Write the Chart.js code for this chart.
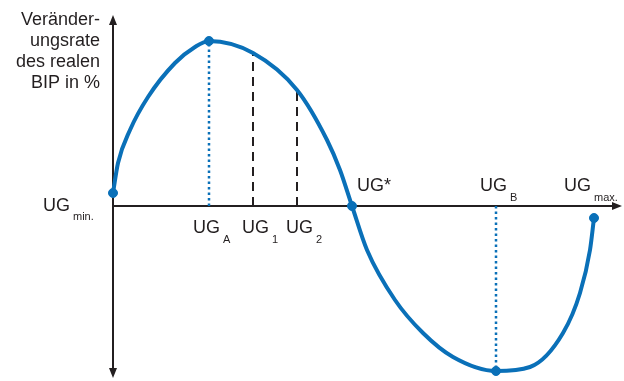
<!DOCTYPE html>
<html lang="de">
<head>
<meta charset="UTF-8">
<title>Veränderungsrate des realen BIP</title>
<script src="https://cdn.jsdelivr.net/npm/chart.js"></script>
<style>
    html, body { margin: 0; padding: 0; background: #fff; }
    #wrap { width: 624px; height: 381px; position: relative; }
</style>
</head>
<body>
<div id="wrap"><canvas id="cycle"></canvas></div>
<script>
// Curve (x = position along the axis, y = growth rate)
const curveX = [0, 5, 17, 35, 62, 82, 96, 140, 184, 214, 227, 239, 254, 282, 310, 340, 383, 417, 450, 467, 477, 481];
const curveY = [13, 43, 76, 109, 143, 159, 165, 153, 116, 66, 36, 0, -44, -94, -127, -151, -165, -161, -127, -87, -44, -12];

// marked points: UG min, UG A, UG*, UG B, UG max
const dotX = [0, 96, 239, 383, 481];
const dotY = [13, 165, 0, -165, -12];

// guide lines
const dottedX = [96, 383];
const dottedY = [165, -165];
const dashedX = [140, 184];
const dashedY = [153, 116];

const yTitle = ['Veränder-', 'ungsrate', 'des realen', 'BIP in %'];

const blue = '#0a70b8';
const ink = '#231f20';
const FONT = '"Liberation Sans", Arial, sans-serif';

function guide(x, y, color, dash, width) {
    return {
        data: [{ x: x, y: 0 }, { x: x, y: y }],
        borderColor: color,
        borderWidth: width,
        borderDash: dash,
        pointRadius: 0,
        showLine: true,
        clip: false,
        order: 3
    };
}

const datasets = [];
dottedX.forEach((x, i) => datasets.push(guide(x, dottedY[i], blue, [2.5, 3], 2.5)));
dashedX.forEach((x, i) => datasets.push(guide(x, dashedY[i], ink, [9, 6], 2)));
datasets.push({
    data: curveX.map((x, i) => ({ x: x, y: curveY[i] })),
    borderColor: blue,
    borderWidth: 4,
    pointRadius: 0,
    showLine: true,
    clip: false,
    cubicInterpolationMode: 'monotone',
    order: 1
});
datasets.push({
    data: dotX.map((x, i) => ({ x: x, y: dotY[i] })),
    backgroundColor: blue,
    borderColor: blue,
    pointRadius: 4.5,
    showLine: false,
    clip: false,
    order: 0
});

// axes, arrows and labels drawn by hand
const decor = {
    id: 'decor',
    beforeDatasetsDraw(chart) {
        const c = chart.ctx, xs = chart.scales.x, ys = chart.scales.y;
        const x0 = xs.getPixelForValue(0), y0 = ys.getPixelForValue(0);
        const top = chart.chartArea.top, bottom = chart.chartArea.bottom, right = chart.chartArea.right;
        c.save();
        c.strokeStyle = ink;
        c.fillStyle = ink;
        c.lineWidth = 2;
        c.beginPath();
        c.moveTo(x0, top + 8); c.lineTo(x0, bottom - 8);
        c.moveTo(x0, y0); c.lineTo(right - 8, y0);
        c.stroke();
        // arrow heads
        c.beginPath();
        c.moveTo(x0, top); c.lineTo(x0 - 4, top + 10); c.lineTo(x0 + 4, top + 10); c.closePath();
        c.moveTo(x0, bottom); c.lineTo(x0 - 4, bottom - 10); c.lineTo(x0 + 4, bottom - 10); c.closePath();
        c.moveTo(right, y0); c.lineTo(right - 10, y0 - 4); c.lineTo(right - 10, y0 + 4); c.closePath();
        c.fill();
        c.restore();
    },
    afterDraw(chart) {
        const c = chart.ctx, xs = chart.scales.x;
        c.save();
        c.fillStyle = ink;
        c.textBaseline = 'alphabetic';
        c.font = '18px ' + FONT;
        c.textAlign = 'right';
        yTitle.forEach((t, i) => c.fillText(t, 100, 25 + i * 21));
        c.textAlign = 'left';
        const labels = [
            { x: 0, dx: -70, y: 211, sub: 'min.', sy: 220 },
            { x: 96, dx: -16, y: 233, sub: 'A', sy: 243 },
            { x: 140, dx: -11, y: 233, sub: '1', sy: 243 },
            { x: 184, dx: -11, y: 233, sub: '2', sy: 243 },
            { x: 239, dx: 5, y: 191, sub: null, star: true },
            { x: 383, dx: -16, y: 191, sub: 'B', sy: 201 },
            { x: 481, dx: -30, y: 191, sub: 'max.', sy: 201 }
        ];
        labels.forEach(l => {
            const px = xs.getPixelForValue(l.x) + l.dx;
            c.font = '18px ' + FONT;
            const main = l.star ? 'UG*' : 'UG';
            c.fillText(main, px, l.y);
            if (l.sub) {
                const w = c.measureText('UG').width;
                c.font = '11px ' + FONT;
                c.fillText(l.sub, px + w + 3, l.sy);
            }
        });
        c.restore();
    }
};

new Chart(document.getElementById('cycle'), {
    type: 'scatter',
    data: { datasets: datasets },
    options: {
        responsive: true,
        maintainAspectRatio: false,
        animation: false,
        layout: { autoPadding: false, padding: { left: 113, right: 2, top: 15, bottom: 3 } },
        plugins: { legend: { display: false }, tooltip: { enabled: false } },
        scales: {
            x: { type: 'linear', min: 0, max: 509, display: false },
            y: { type: 'linear', min: -172, max: 191, display: false }
        }
    },
    plugins: [decor]
});
</script>
</body>
</html>
